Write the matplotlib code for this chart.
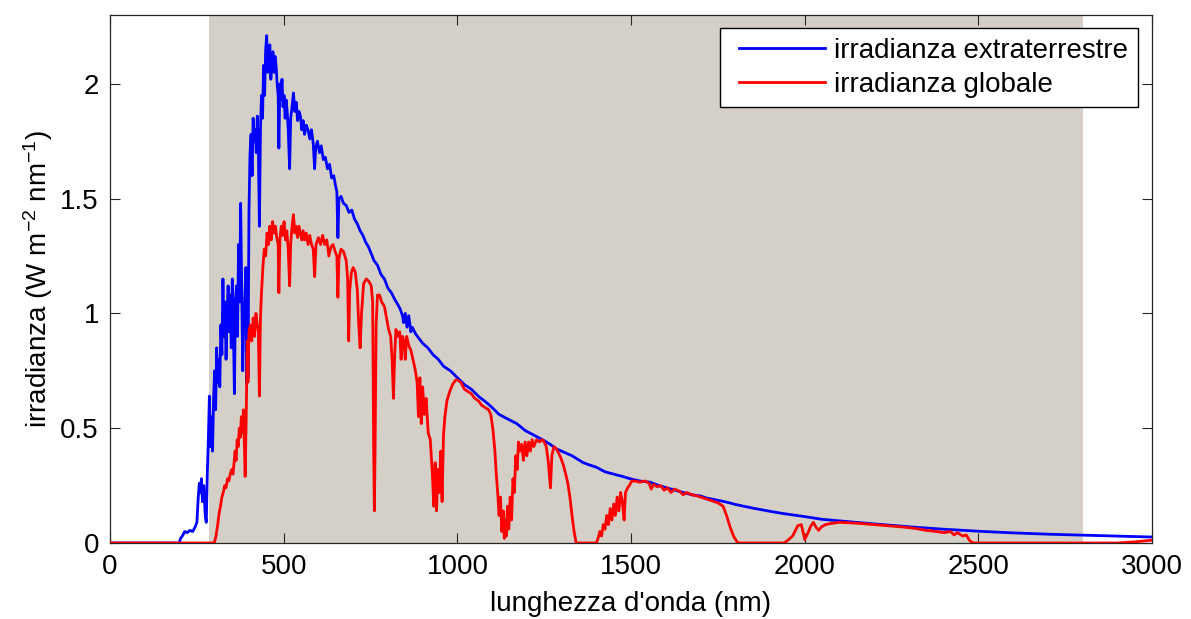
import numpy as np
import matplotlib
matplotlib.use("Agg")
from matplotlib import pyplot as plt
from matplotlib.ticker import FormatStrFormatter
from matplotlib.legend_handler import HandlerLine2D

plt.rcParams['font.family'] = ['Liberation Sans', 'DejaVu Sans']
plt.rcParams['mathtext.default'] = 'regular'

# irradianza extraterrestre (nm, W m-2 nm-1)
wl_etr = [0, 100, 199, 203, 208, 215, 222, 230, 238, 245, 250, 254, 257, 260, 263, 266,
          270, 274, 277, 280, 283, 286, 289, 292, 295, 298, 301, 304, 307, 310, 313, 316,
          319, 322, 325, 328, 331, 334, 337, 340, 343, 346, 349, 352, 355, 358, 361, 364,
          367, 370, 373, 376, 379, 382, 385, 388, 391, 393, 396, 397, 400, 403, 406, 409,
          412, 415, 418, 421, 424, 427, 430, 433, 436, 439, 442, 445, 448, 451, 454, 457,
          460, 463, 466, 469, 472, 475, 478, 481, 484, 486, 489, 492, 495, 498, 501, 504,
          507, 510, 513, 517, 520, 524, 528, 532, 536, 540, 544, 548, 552, 556, 560, 565,
          570, 575, 580, 585, 589, 592, 597, 603, 608, 614, 620, 626, 632, 638, 644, 650,
          653, 656, 659, 665, 672, 680, 688, 696, 704, 712, 720, 728, 736, 744, 752, 760,
          770, 780, 790, 800, 810, 820, 828, 835, 842, 845, 850, 855, 860, 866, 870, 880,
          890, 900, 915, 930, 945, 960, 980, 1000, 1020, 1040, 1060, 1085, 1100, 1120, 1145,
          1171, 1195, 1220, 1245, 1267, 1285, 1300, 1330, 1362, 1380, 1400, 1425, 1450, 1475, 1497,
          1525, 1555, 1580, 1603, 1625, 1650, 1675, 1699, 1720, 1747, 1775, 1800, 1850, 1900,
          1939, 2000, 2050, 2131, 2200, 2323, 2400, 2515, 2600, 2707, 2800, 2900, 3000]
etr = [0, 0, 0, 0.02, 0.03, 0.05, 0.045, 0.055, 0.05, 0.07, 0.09, 0.20, 0.26, 0.22, 0.28, 0.18,
       0.25, 0.12, 0.09, 0.30, 0.45, 0.64, 0.42, 0.55, 0.40, 0.62, 0.75, 0.58, 0.85, 0.70, 0.80, 0.68,
       0.95, 0.82, 1.15, 0.90, 1.05, 0.80, 1.00, 1.12, 0.92, 1.08, 0.85, 1.15, 0.95, 0.65, 1.05, 1.12,
       0.90, 1.30, 1.05, 1.48, 1.10, 0.75, 1.00, 1.05, 1.20, 0.70, 1.10, 0.72, 1.45, 1.70, 1.78, 1.60,
       1.85, 1.75, 1.80, 1.70, 1.86, 1.72, 1.38, 1.80, 1.95, 1.85, 2.08, 1.95, 2.15, 2.21, 2.05, 2.12,
       2.17, 2.02, 2.10, 2.14, 2.05, 2.12, 2.08, 2.00, 1.95, 1.72, 2.00, 1.93, 2.02, 1.90, 1.95, 1.85,
       1.93, 1.88, 1.80, 1.63, 1.85, 1.90, 1.96, 1.88, 1.92, 1.84, 1.88, 1.86, 1.80, 1.84, 1.78, 1.82,
       1.80, 1.76, 1.80, 1.74, 1.63, 1.72, 1.75, 1.70, 1.73, 1.67, 1.68, 1.63, 1.65, 1.59, 1.60, 1.55,
       1.53, 1.33, 1.50, 1.51, 1.48, 1.47, 1.44, 1.45, 1.41, 1.39, 1.36, 1.34, 1.31, 1.29, 1.26, 1.23,
       1.21, 1.17, 1.15, 1.11, 1.09, 1.06, 1.04, 1.02, 0.99, 0.96, 1.00, 0.94, 0.99, 0.92, 0.94, 0.91,
       0.89, 0.87, 0.85, 0.82, 0.80, 0.77, 0.75, 0.72, 0.69, 0.67, 0.64, 0.61, 0.59, 0.56, 0.54,
       0.52, 0.49, 0.47, 0.45, 0.43, 0.41, 0.40, 0.38, 0.35, 0.34, 0.33, 0.31, 0.30, 0.29, 0.28,
       0.27, 0.265, 0.25, 0.24, 0.23, 0.22, 0.21, 0.205, 0.195, 0.187, 0.178, 0.168, 0.152, 0.138,
       0.128, 0.115, 0.103, 0.092, 0.083, 0.068, 0.060, 0.050, 0.044, 0.038, 0.034, 0.030, 0.026]

# irradianza globale
wl_glo = [0, 290, 300, 305, 310, 314, 318, 322, 326, 330, 334, 338, 342,
          346, 350, 354, 357, 360, 363, 366, 369, 372, 375, 378, 381, 384, 387, 389, 392,
          395, 397, 400, 404, 408, 412, 416, 420, 424, 427, 430, 433, 436, 440, 444,
          448, 452, 456, 460, 464, 468, 472, 476, 480, 484, 486, 489, 493, 497, 501, 505,
          509, 513, 517, 520, 524, 528, 532, 536, 540, 544, 548, 552, 556, 560, 565, 570,
          575, 580, 585, 589, 593, 600, 606, 612, 618, 624, 630, 636, 642, 648, 653, 656,
          659, 665, 672, 680, 684, 687, 690, 695, 700, 706, 712, 716, 720, 724, 730, 738,
          745, 752, 756, 759, 761, 763, 766, 770, 776, 782, 790, 796, 802, 808, 812, 816,
          819, 823, 828, 834, 838, 842, 846, 850, 854, 860, 866, 872, 878, 884, 888, 892,
          896, 900, 905, 910, 916, 922, 928, 932, 936, 940, 944, 948, 952, 956, 960, 964,
          970, 978, 986, 995, 1000, 1010, 1020, 1030, 1040, 1050, 1060, 1070, 1080, 1090, 1096, 1102,
          1108, 1112, 1116, 1120, 1124, 1128, 1132, 1135, 1138, 1141, 1144, 1148, 1152, 1156, 1160, 1164,
          1168, 1172, 1176, 1180, 1185, 1190, 1195, 1200, 1205, 1210, 1215, 1220, 1228, 1236, 1244, 1250,
          1256, 1262, 1268, 1272, 1278, 1285, 1292, 1298, 1305, 1312, 1318, 1324, 1330, 1336, 1342, 1400,
          1405, 1410, 1415, 1420, 1425, 1430, 1435, 1440, 1445, 1450, 1455, 1460, 1465, 1470, 1475, 1480,
          1484, 1490, 1495, 1502, 1512, 1525, 1540, 1552, 1558, 1565, 1575, 1585, 1595, 1605, 1615, 1625,
          1640, 1650, 1660, 1675, 1690, 1710, 1730, 1750, 1765, 1775, 1785, 1795, 1805, 1810, 1940, 1950,
          1965, 1980, 1990, 1995, 2000, 2008, 2018, 2025, 2032, 2040, 2048, 2060, 2075, 2100, 2130, 2160,
          2200, 2240, 2280, 2320, 2350, 2380, 2400, 2420, 2430, 2440, 2455, 2465, 2475, 2485, 2900, 2950,
          3000]
glo = [0, 0, 0.0, 0.03, 0.08, 0.13, 0.16, 0.20, 0.22, 0.25, 0.24, 0.28, 0.27,
       0.30, 0.32, 0.30, 0.35, 0.40, 0.36, 0.45, 0.42, 0.50, 0.46, 0.55, 0.48, 0.58, 0.40, 0.29, 0.55,
       0.88, 0.70, 0.92, 0.95, 0.88, 0.98, 0.90, 1.00, 0.95, 0.92, 0.64, 0.98, 1.09, 1.20, 1.28,
       1.25, 1.35, 1.30, 1.38, 1.32, 1.40, 1.35, 1.38, 1.33, 1.30, 1.09, 1.32, 1.38, 1.34, 1.40, 1.32,
       1.36, 1.28, 1.12, 1.30, 1.38, 1.43, 1.35, 1.38, 1.33, 1.38, 1.35, 1.32, 1.36, 1.32, 1.35, 1.30,
       1.34, 1.30, 1.28, 1.16, 1.30, 1.33, 1.30, 1.34, 1.30, 1.32, 1.25, 1.29, 1.30, 1.27, 1.25, 1.07,
       1.24, 1.28, 1.27, 1.23, 1.15, 0.88, 1.10, 1.18, 1.20, 1.18, 1.10, 0.95, 0.85, 1.00, 1.13, 1.15,
       1.14, 1.12, 1.05, 0.40, 0.14, 0.40, 0.95, 1.08, 1.08, 1.05, 1.03, 0.98, 0.93, 0.90, 0.80, 0.63,
       0.80, 0.93, 0.90, 0.92, 0.80, 0.90, 0.88, 0.80, 0.90, 0.86, 0.84, 0.80, 0.76, 0.70, 0.55, 0.72,
       0.52, 0.68, 0.56, 0.63, 0.48, 0.45, 0.30, 0.16, 0.35, 0.14, 0.32, 0.22, 0.40, 0.18, 0.47, 0.55,
       0.62, 0.66, 0.69, 0.71, 0.71, 0.70, 0.67, 0.66, 0.65, 0.63, 0.62, 0.60, 0.59, 0.58, 0.56, 0.50,
       0.40, 0.30, 0.22, 0.12, 0.20, 0.05, 0.14, 0.02, 0.10, 0.03, 0.16, 0.06, 0.20, 0.10, 0.28, 0.22,
       0.38, 0.32, 0.44, 0.40, 0.43, 0.36, 0.44, 0.38, 0.44, 0.40, 0.45, 0.42, 0.45, 0.44, 0.45, 0.44,
       0.42, 0.35, 0.24, 0.38, 0.42, 0.41, 0.39, 0.37, 0.34, 0.30, 0.26, 0.20, 0.12, 0.05, 0.0, 0.0,
       0.02, 0.05, 0.03, 0.08, 0.06, 0.12, 0.08, 0.15, 0.10, 0.17, 0.12, 0.20, 0.14, 0.22, 0.18, 0.10,
       0.22, 0.24, 0.25, 0.27, 0.27, 0.265, 0.27, 0.26, 0.235, 0.255, 0.245, 0.25, 0.23, 0.24, 0.22, 0.235,
       0.225, 0.21, 0.22, 0.21, 0.205, 0.195, 0.185, 0.175, 0.16, 0.12, 0.07, 0.03, 0.005, 0.0, 0.0, 0.01,
       0.03, 0.075, 0.08, 0.05, 0.015, 0.04, 0.075, 0.09, 0.07, 0.055, 0.07, 0.08, 0.085, 0.09, 0.088, 0.085,
       0.08, 0.075, 0.07, 0.063, 0.055, 0.05, 0.045, 0.05, 0.035, 0.045, 0.03, 0.035, 0.01, 0.0, 0.0, 0.005,
       0.012]

band = (285, 2800)
xticks = [0, 500, 1000, 1500, 2000, 2500, 3000]
yticks = [0, 0.5, 1, 1.5, 2]

fig = plt.figure(figsize=(11.91, 6.19), dpi=100)
ax = fig.add_axes([0.0924, 0.1228, 0.8749, 0.853])

ax.axvspan(band[0], band[1], color='#d4d0c8', lw=0, zorder=0)
ax.plot(wl_etr, etr, color='#0000ff', lw=2.0, label='irradianza extraterrestre', zorder=2)
ax.plot(wl_glo, glo, color='#ff0000', lw=2.0, label='irradianza globale', zorder=3)

ax.set_xlim(0, 3000)
ax.set_ylim(0, 2.3)
ax.set_xticks(xticks)
ax.set_yticks(yticks)
ax.yaxis.set_major_formatter(FormatStrFormatter('%g'))
ax.tick_params(direction='in', length=7, width=0.8, top=True, right=True,
               labelsize=20, pad=8, color='#262626')
for s in ax.spines.values():
    s.set_color('#262626')
    s.set_linewidth(0.9)

ax.set_xlabel("lunghezza d'onda (nm)", fontsize=20, labelpad=8)
ax.set_ylabel("irradianza (W m$^{-2}$ nm$^{-1}$)", fontsize=20, labelpad=4)

# linea della legenda spostata un po' a destra, come nell'originale
hl = HandlerLine2D(xpad=0.3)
leg = ax.legend(loc='upper right', bbox_to_anchor=(0.9866, 0.975), borderaxespad=0,
                fontsize=20, fancybox=False, framealpha=1, edgecolor='black',
                handlelength=3.4, handletextpad=0.35, borderpad=0.35, labelspacing=0.28,
                handler_map={plt.Line2D: hl})
leg.get_frame().set_linewidth(1.0)

fig.savefig('out.png', dpi=100)
